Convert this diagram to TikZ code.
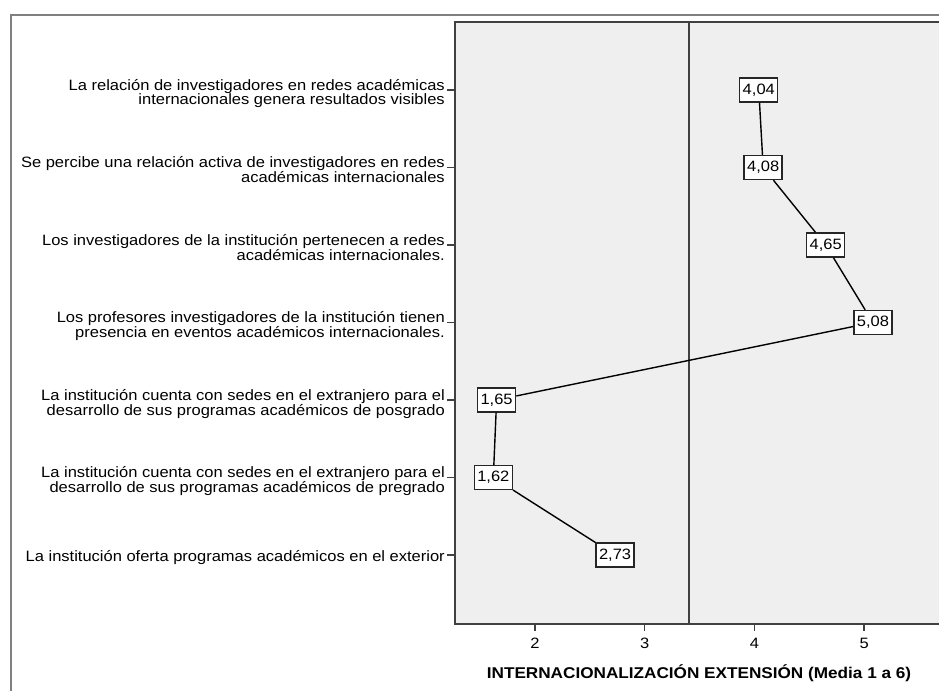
\documentclass[tikz,border=0pt]{standalone}
\usepackage{fontspec}
\setmainfont{Liberation Sans}[FakeStretch=1.1]
\usetikzlibrary{positioning}

\definecolor{plotbg}{RGB}{239,239,239}
\definecolor{axisgray}{RGB}{64,64,64}
\definecolor{framegray}{RGB}{128,128,128}

\tikzset{
  valbox/.style={draw=black!85, fill=white, line width=1.4pt, minimum width=38pt,
    minimum height=24pt, inner sep=0pt, font=\fontsize{15}{15}\selectfont},
  catlabel/.style={anchor=base east, inner sep=0pt, font=\fontsize{15}{13.5}\selectfont},
  ticklabel/.style={anchor=base, inner sep=0pt, font=\fontsize{15}{15}\selectfont},
  axisline/.style={draw=axisgray, line width=1.5pt},
}

\begin{document}
\begin{tikzpicture}[x=1pt, y=-1pt]
  \useasboundingbox (0,0) rectangle (939,691);

  % outer frame and plot area
  \draw[framegray, line width=1.5pt] (11,691) -- (11,15) -- (939,15);
  \fill[plotbg] (455,22) rectangle (939,624);
  \draw[axisline] (939,22) -- (455,22) -- (455,624) -- (939,624);
  \draw[axisline] (689,22) -- (689,624);

  % x axis
  \foreach \v in {2,3,4,5}{
    \draw[axisline] ({535+(\v-2)*109.7},624) -- ({535+(\v-2)*109.7},631);
    \node[ticklabel] (tick\v) at ({535+(\v-2)*109.7},648) {\v};
  }
  \node[anchor=base, inner sep=0pt, font=\fontsize{15.6}{15.6}\selectfont\bfseries]
    (xtitle) at (699,678) {INTERNACIONALIZACIÓN EXTENSIÓN (Media 1 a 6)};

  % categories
  \foreach \i in {1,...,7}{
    \draw[axisline] (447,{90+(\i-1)*77.5}) -- (455,{90+(\i-1)*77.5});
  }
  \node[catlabel] (cat1) at (445,90) {\begin{tabular}[t]{@{}r@{}}La relación de investigadores en redes académicas\\internacionales genera resultados visibles\end{tabular}};
  \node[catlabel] (cat2) at (445,167.5) {\begin{tabular}[t]{@{}r@{}}Se percibe una relación activa de investigadores en redes\\académicas internacionales\end{tabular}};
  \node[catlabel] (cat3) at (445,245) {\begin{tabular}[t]{@{}r@{}}Los investigadores de la institución pertenecen a redes\\académicas internacionales.\end{tabular}};
  \node[catlabel] (cat4) at (445,322.5) {\begin{tabular}[t]{@{}r@{}}Los profesores investigadores de la institución tienen\\presencia en eventos académicos internacionales.\end{tabular}};
  \node[catlabel] (cat5) at (445,400) {\begin{tabular}[t]{@{}r@{}}La institución cuenta con sedes en el extranjero para el\\desarrollo de sus programas académicos de posgrado\end{tabular}};
  \node[catlabel] (cat6) at (445,477.5) {\begin{tabular}[t]{@{}r@{}}La institución cuenta con sedes en el extranjero para el\\desarrollo de sus programas académicos de pregrado\end{tabular}};
  \node[catlabel] (cat7) at (445,561) {La institución oferta programas académicos en el exterior};

  % means
  \foreach \v/\t [count=\i] in {4.04/4{,}04, 4.08/4{,}08, 4.65/4{,}65, 5.08/5{,}08,
                                1.65/1{,}65, 1.62/1{,}62, 2.73/2{,}73}{
    \node[valbox] (p\i) at ({535+(\v-2)*109.7},{90+(\i-1)*77.5}) {\t};
  }
  \foreach \i [evaluate=\i as \nexti using int(\i+1)] in {1,...,6}{
    \draw[line width=1.4pt] (p\i) -- (p\nexti);
  }
\end{tikzpicture}
\end{document}
